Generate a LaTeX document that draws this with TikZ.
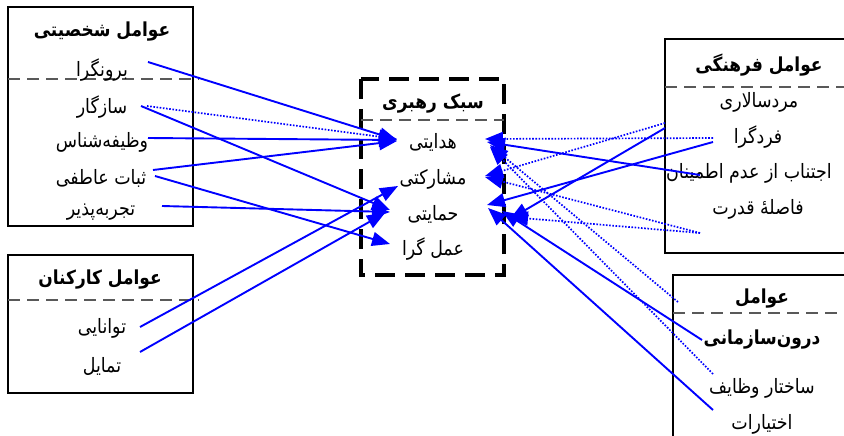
\documentclass[tikz,border=0pt]{standalone}
\usepackage{fontspec}
\TeXXeTstate=1
\newfontfamily\arabicfont[Script=Arabic, FakeStretch=0.88]{DejaVu Sans}
\usetikzlibrary{arrows.meta}
\newcommand{\fa}[1]{\beginR #1\endR}
\begin{document}
\begin{tikzpicture}[x=1pt,y=-1pt,
  frame/.style={draw=black, line width=2.4pt},
  cframe/.style={draw=black, line width=3.2pt, dash pattern=on 20pt off 10pt},
  sep/.style={draw=black!65, line width=1.7pt, dash pattern=on 12pt off 7pt},
  lbl/.style={font=\fontsize{19.8}{22}\selectfont\arabicfont, inner sep=0pt},
  ttl/.style={font=\fontsize{19.3}{22}\selectfont\arabicfont\bfseries, inner sep=0pt},
  conn/.style={blue, line width=1.9pt, -{Triangle[length=18pt,width=14pt]}},
  dconn/.style={blue, line width=1.7pt, dash pattern=on 1.6pt off 1.6pt, -{Triangle[length=18pt,width=14pt]}}]
\useasboundingbox (0,0) rectangle (844,436);
% boxes
\draw[frame] (8,7) rectangle (193,226);
\draw[sep] (8,79) -- (199,79);
\draw[frame] (8,255) rectangle (193,393);
\draw[sep] (8,300) -- (199,300);
\draw[cframe] (361,79) rectangle (504,275);
\draw[sep] (361,120) -- (504,120);
\draw[frame] (665,39) rectangle (870,253);
\draw[sep] (665,87) -- (870,87);
\draw[frame] (673,275) rectangle (870,460);
\draw[sep] (673,313) -- (870,313);
% left top
\node[ttl] (t1) at (102,32) {\fa{عوامل شخصیتی}};
\node[lbl] (bor) at (102,70) {\fa{برونگرا}};
\node[lbl] (saz) at (102,107) {\fa{سازگار}};
\node[lbl] (vaz) at (102,142) {\fa{وظیفه^^^^200cشناس}};
\node[lbl] (sab) at (101,178) {\fa{ثبات عاطفی}};
\node[lbl] (taj) at (101,212) {\fa{تجربه^^^^200cپذیر}};
% left bottom
\node[ttl] (t2) at (100,280) {\fa{عوامل کارکنان}};
\node[lbl] (tav) at (102,328) {\fa{توانایی}};
\node[lbl] (tam) at (102,366) {\fa{تمایل}};
% center
\node[ttl] (t3) at (433,104) {\fa{سبک رهبری}};
\node[lbl] (hed) at (433,142) {\fa{هدایتی}};
\node[lbl] (mosh) at (433,179) {\fa{مشارکتی}};
\node[lbl] (hem) at (433,214) {\fa{حمایتی}};
\node[lbl] (amal) at (433,249) {\fa{عمل گرا}};
% right top
\node[ttl] (t4) at (759,65) {\fa{عوامل فرهنگی}};
\node[lbl] (mard) at (759,102) {\fa{مردسالاری}};
\node[lbl] (fard) at (758,137) {\fa{فردگرا}};
\node[lbl, anchor=west] (ejt) at (666,173) {\fa{اجتناب از عدم اطمینان}};
\node[lbl] (fas) at (758,209) {\fa{فاصلهٔ قدرت}};
% right bottom
\node[ttl] (t5) at (762,299) {\fa{عوامل}};
\node[ttl] (darun) at (762,340) {\fa{درون^^^^200cسازمانی}};
\node[lbl] (sakh) at (762,388) {\fa{ساختار وظایف}};
\node[lbl] (ekh) at (762,424) {\fa{اختیارات}};
% left connectors
\draw[conn] ([shift={(46,-8)}]bor.center) -- ([shift={(-36,-2)}]hed.center);
\draw[dconn] ([shift={(45,-1)}]saz.center) -- ([shift={(-36,-3)}]hed.center);
\draw[conn] ([shift={(39,-1)}]saz.center) -- ([shift={(-43,-4)}]hem.center);
\draw[conn] ([shift={(46,-4)}]vaz.center) -- ([shift={(-36,-2)}]hed.center);
\draw[conn] ([shift={(52,-8)}]sab.center) -- ([shift={(-36,-1)}]hed.center);
\draw[conn] ([shift={(54,-2)}]sab.center) -- ([shift={(-43,-5)}]amal.center);
\draw[conn] ([shift={(61,-6)}]taj.center) -- ([shift={(-43,-2)}]hem.center);
\draw[conn] ([shift={(38,-1)}]tav.center) -- ([shift={(-35,7)}]mosh.center);
\draw[conn] ([shift={(38,-14)}]tam.center) -- ([shift={(-48,-1)}]hem.center);
% right connectors
\draw[dconn] ([shift={(-45,1)}]fard.center) -- ([shift={(52,-3)}]hed.center);
\draw[dconn] ([shift={(-94,21)}]mard.center) -- ([shift={(52,-3)}]mosh.center);
\draw[conn] ([shift={(-94,26)}]mard.center) -- ([shift={(77,5)}]hem.center);
\draw[conn] ([shift={(-45,5)}]fard.center) -- ([shift={(54,-9)}]hem.center);
\draw[conn] ([shift={(34,2)}]ejt.west) -- ([shift={(54,0)}]hed.center);
\draw[dconn] ([shift={(-58,24)}]fas.center) -- ([shift={(52,-2)}]mosh.center);
\draw[dconn] ([shift={(-58,24)}]fas.center) -- ([shift={(77,3)}]hem.center);
\draw[dconn] ([shift={(-84,3)}]t5.center) -- ([shift={(57,3)}]hed.center);
\draw[conn] ([shift={(-60,0)}]darun.center) -- ([shift={(69,-3)}]hem.center);
\draw[dconn] ([shift={(-49,-14)}]sakh.center) -- ([shift={(57,5)}]hed.center);
\draw[conn] ([shift={(-49,-14)}]ekh.center) -- ([shift={(55,-6)}]hem.center);
\end{tikzpicture}
\end{document}
